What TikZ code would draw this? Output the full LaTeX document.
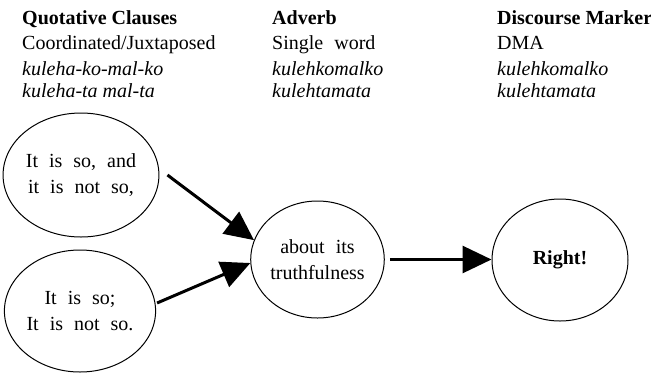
\documentclass[tikz,border=0pt]{standalone}
\usepackage{fontspec}
\setmainfont{Liberation Serif}
\usetikzlibrary{shapes.geometric,arrows.meta}
\newcommand\mywidesp{\spaceskip 0.55em\relax}
\begin{document}
\begin{tikzpicture}[x=1pt,y=-1pt,
  hdr/.style={anchor=base west, inner sep=0pt, font=\fontsize{20}{24}\selectfont\mywidesp},
  hdrb/.style={hdr, font=\fontsize{20}{24}\selectfont\bfseries},
  hdri/.style={hdr, font=\fontsize{20}{24}\selectfont\itshape},
  circ/.style={ellipse, draw, line width=1pt, inner sep=0pt, align=center,
    font=\fontsize{20}{26}\selectfont\mywidesp},
  arr/.style={line width=3pt, -{Triangle[length=29pt,width=27pt]}}]
\useasboundingbox (0,0) rectangle (651,373);
% header column 1
\node[hdrb] (q1) at (22,24) {Quotative Clauses};
\node[hdr]  (q2) at (22,49) {Coordinated/Juxtaposed};
\node[hdri] (q3) at (22,75) {kuleha-ko-mal-ko};
\node[hdri] (q4) at (22,97) {kuleha-ta mal-ta};
% header column 2
\node[hdrb] (a1) at (272,24) {Adverb};
\node[hdr]  (a2) at (272,49) {Single word};
\node[hdri] (a3) at (272,75) {kulehkomalko};
\node[hdri] (a4) at (272,97) {kulehtamata};
% header column 3
\node[hdrb] (d1) at (497,24) {Discourse Marker};
\node[hdr]  (d2) at (497,49) {DMA};
\node[hdri] (d3) at (497,75) {kulehkomalko};
\node[hdri] (d4) at (497,97) {kulehtamata};
% circles
\node[circ, minimum width=132pt, minimum height=124pt] (A) at (81,175) {It is so, and\\it is not so,};
\node[circ, minimum width=134pt, minimum height=122pt] (B) at (80,311) {It is so;\\It is not so.};
\node[circ, minimum width=125pt, minimum height=117pt] (C) at (317.5,259.5) {about its\\truthfulness};
\node[circ, minimum width=136pt, minimum height=122pt] (D) at (560,260) {\bfseries Right!};
% arrows
\draw[arr] ([xshift=8pt]A.east) -- (C.163);
\draw[arr] ([shift={(1pt,8pt)}]B.east) -- (C.183);
\draw[arr] ([xshift=5pt]C.east) -- (C.east -| D.west);
\end{tikzpicture}
\end{document}
